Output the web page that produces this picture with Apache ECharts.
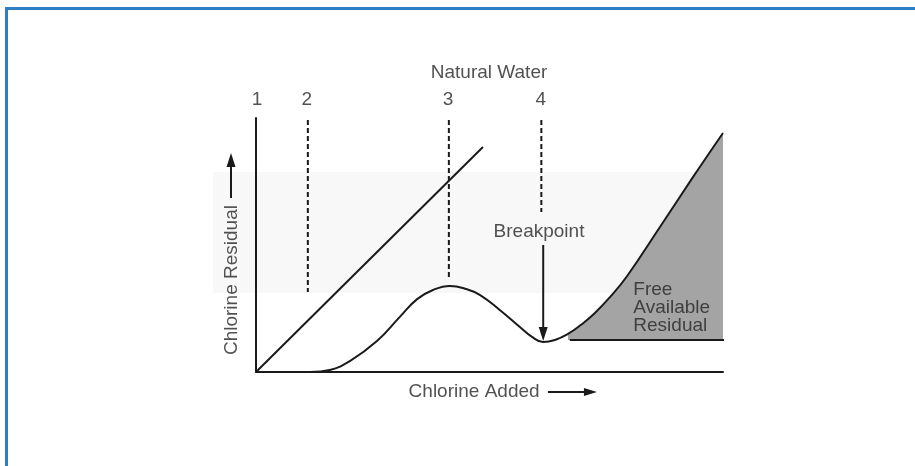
<!DOCTYPE html>
<html><head><meta charset="utf-8">
<script src="https://cdn.jsdelivr.net/npm/echarts@6/dist/echarts.min.js"></script>
<style>
html,body{margin:0;padding:0;background:#fff;overflow:hidden;}
#band{position:absolute;left:213px;top:172px;width:502px;height:121px;background:#f8f8f8;}
#frame{position:absolute;left:5px;top:7px;width:910px;height:459px;border-top:3px solid #2f7fc6;border-left:3px solid #2f7fc6;box-sizing:border-box;}
#chart{position:absolute;left:0;top:0;width:915px;height:466px;}
</style></head><body>
<div id="band"></div><div id="frame"></div><div id="chart"></div>
<script>
// ---- data (chart units: x = chlorine added 0..100, y = chlorine residual 0..100) ----
const curveX = [11.6, 15.8, 20.1, 25.9, 30.8, 34.5, 37.9, 41.5, 45.0, 48.0, 52.2, 56.5, 59.1, 61.5, 64.0, 66.8, 69.6, 72.4, 75.8, 79.4, 86.5, 93.6, 100];
const curveY = [0.0, 0.8, 4.3, 12.2, 21.7, 28.7, 32.3, 33.9, 32.7, 30.3, 24.4, 17.7, 13.8, 11.8, 12.6, 15.0, 18.6, 22.9, 29.5, 37.6, 57.1, 76.8, 94.1];
const fillStart = 15;              // index in curve where free available residual shading begins
const shadeBase = 12.6;            // residual level at the bottom of the shaded region
const shadeBaseX = [67.2, 100.6];
const demandLineX = [0, 48.6];
const demandLineY = [0, 88.6];
const zoneX = [11.1, 41.3, 61.1];
const zoneTop = 99.2;
const zoneBottom = [31.5, 36.2, 63.0];
const zoneLabels = ['1', '2', '3', '4'];
const zoneLabelX = [0.2, 10.9, 41.1, 61.0];
const zoneLabelY = 107.1;
const titleText = 'Natural Water';
const titlePos = [49.9, 117.7];
const breakText = 'Breakpoint';
const breakPos = [60.6, 55.1];
const breakArrowX = 61.5;
const breakArrowY = [50.0, 12.2];
const freeText = 'Free\nAvailable\nResidual';
const freePos = [80.8, 25.2];
const xNameText = 'Chlorine Added';
const xNamePos = [46.7, -7.9];
const xArrowX = [62.5, 73.0];
const yNameText = 'Chlorine Residual';
const yNamePos = [-5.1, 36.2];
const yArrowX = -5.35;
const yArrowY = [68.5, 86.2];

const INK = '#1a1a1a';
const TXT = '#262626';
const FONT = '"Liberation Sans", Arial, Helvetica, sans-serif';
const textStyle = {color: TXT, fontFamily: FONT, fontSize: 19};

const curve = curveX.map((x, i) => [x, curveY[i]]);
const fill = curve.slice(fillStart);

function plainLine(data, extra) {
  return Object.assign({type: 'line', data: data, symbol: 'none', clip: false, silent: true,
    lineStyle: {color: INK, width: 2}, z: 3}, extra || {});
}

const series = [];
series.push(plainLine(fill, {smooth: 0.45, lineStyle: {width: 0, color: 'transparent'},
  areaStyle: {color: '#a4a4a4', opacity: 1, origin: shadeBase}, z: 1}));
series.push(plainLine(demandLineX.map((x, i) => [x, demandLineY[i]])));
series.push(plainLine(curve, {smooth: 0.45}));
series.push(plainLine(shadeBaseX.map(x => [x, shadeBase])));
zoneX.forEach((x, i) => series.push(plainLine([[x, zoneTop], [x, zoneBottom[i]]],
  {lineStyle: {color: INK, width: 2, type: [5, 3]}})));

const labelData = [];
zoneLabels.forEach((t, i) => labelData.push({value: [zoneLabelX[i], zoneLabelY], name: t}));
labelData.push({value: titlePos, name: titleText});
labelData.push({value: breakPos, name: breakText});
labelData.push({value: freePos, name: freeText, label: {align: 'left', lineHeight: 18}});
labelData.push({value: xNamePos, name: xNameText});
labelData.push({value: yNamePos, name: yNameText, label: {rotate: 90}});

series.push({type: 'scatter', clip: false, silent: true, symbolSize: 1, z: 5,
  itemStyle: {color: 'transparent'},
  label: Object.assign({show: true, position: 'inside', align: 'center', verticalAlign: 'middle',
    formatter: p => p.name}, textStyle),
  data: labelData});

const hiddenAxis = {
  type: 'value', min: 0, max: 100,
  axisLine: {show: true, onZero: false, lineStyle: {color: INK, width: 2}},
  axisTick: {show: false}, axisLabel: {show: false}, splitLine: {show: false}
};

const chart = echarts.init(document.getElementById('chart'), null, {renderer: 'canvas'});
chart.setOption({
  animation: false,
  backgroundColor: 'transparent',
  grid: {left: 256, top: 118, width: 467, height: 254, outerBoundsMode: 'none', containLabel: false},
  xAxis: Object.assign({}, hiddenAxis),
  yAxis: Object.assign({}, hiddenAxis),
  series: series
});

// arrows: endpoints converted through the chart's own scales
function arrowGraphic(from, to, headLen, headHalf) {
  const a = chart.convertToPixel({gridIndex: 0}, from);
  const b = chart.convertToPixel({gridIndex: 0}, to);
  const dx = b[0] - a[0], dy = b[1] - a[1];
  const L = Math.sqrt(dx * dx + dy * dy);
  const ux = dx / L, uy = dy / L;
  const bx = b[0] - ux * headLen, by = b[1] - uy * headLen;
  return [
    {type: 'line', silent: true, z: 10, shape: {x1: a[0], y1: a[1], x2: bx + ux * 2, y2: by + uy * 2},
      style: {stroke: INK, lineWidth: 2}},
    {type: 'polygon', silent: true, z: 10,
      shape: {points: [[b[0], b[1]], [bx - uy * headHalf, by + ux * headHalf], [bx + uy * headHalf, by - ux * headHalf]]},
      style: {fill: INK}}
  ];
}
const graphics = [].concat(
  arrowGraphic([breakArrowX, breakArrowY[0]], [breakArrowX, breakArrowY[1]], 14, 4.5),
  arrowGraphic([xArrowX[0], xNamePos[1]], [xArrowX[1], xNamePos[1]], 13, 4),
  arrowGraphic([yArrowX, yArrowY[0]], [yArrowX, yArrowY[1]], 14, 4.5)
);
chart.setOption({graphic: graphics});
</script>
</body></html>
